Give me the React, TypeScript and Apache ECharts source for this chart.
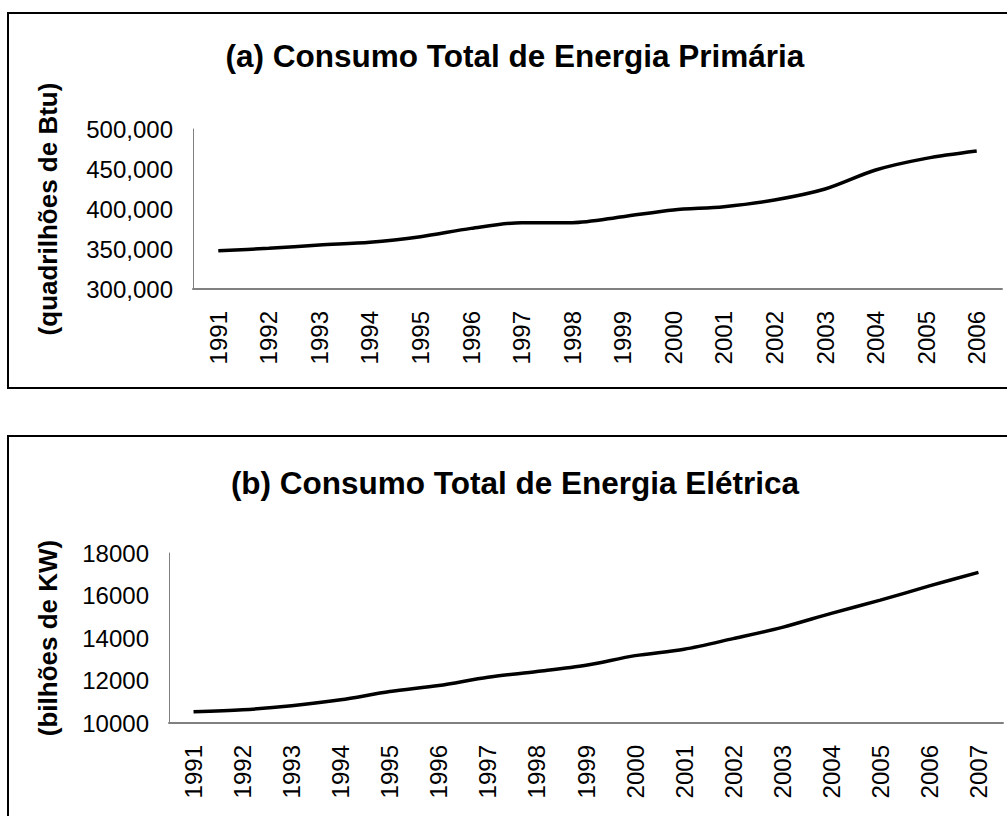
import React, { useEffect, useRef } from "react";
import * as echarts from "echarts";

const yearsA = ["1991","1992","1993","1994","1995","1996","1997","1998","1999","2000","2001","2002","2003","2004","2005","2006"];
const primaryEnergy = [347900, 350900, 355000, 358300, 365400, 375800, 382900, 382900, 390400, 398750, 402900, 411250, 425000, 448750, 463300, 472500];

const yearsB = ["1991","1992","1993","1994","1995","1996","1997","1998","1999","2000","2001","2002","2003","2004","2005","2006","2007"];
const electricEnergy = [10530, 10620, 10810, 11090, 11480, 11760, 12150, 12420, 12720, 13170, 13470, 13970, 14500, 15160, 15780, 16450, 17090];

const titleA = "(a) Consumo Total de Energia Primária";
const titleB = "(b) Consumo Total de Energia Elétrica";
const yNameA = "(quadrilhões de Btu)";
const yNameB = "(bilhões de KW)";

const FONT = "'Liberation Sans', Arial, sans-serif";

export default function App() {
  const ref = useRef<HTMLDivElement>(null);
  useEffect(() => {
    if (!ref.current) return;
    const chart = echarts.init(ref.current, null, { renderer: "svg" });
    const axisLabel = { color: "#000", fontSize: 24, fontFamily: FONT };
    const xAxisCommon = {
      type: "category" as const,
      boundaryGap: true,
      axisTick: { show: false },
      axisLine: { lineStyle: { color: "#808080", width: 2 } },
      axisLabel: { ...axisLabel, rotate: 90, margin: 22 },
      splitLine: { show: false },
    };
    const yAxisCommon = {
      type: "value" as const,
      axisTick: { show: false },
      axisLine: { show: true, lineStyle: { color: "#808080", width: 1 } },
      splitLine: { show: false },
      nameLocation: "middle" as const,
      nameRotate: 90,
      nameTextStyle: { color: "#000", fontSize: 26, fontWeight: "bold" as const, fontFamily: FONT },
    };
    chart.setOption({
      animation: false,
      backgroundColor: "#fff",
      graphic: [
        { type: "rect", shape: { x: 8, y: 13, width: 1010, height: 375 }, style: { fill: "none", stroke: "#000", lineWidth: 2 }, z: 10 },
        { type: "rect", shape: { x: 8, y: 436, width: 1010, height: 400 }, style: { fill: "none", stroke: "#000", lineWidth: 2 }, z: 10 },
        { type: "text", x: 515, y: 56, style: { text: titleA, font: `bold 31.5px ${FONT}`, fill: "#000", textAlign: "center", textVerticalAlign: "middle" } },
        { type: "text", x: 515, y: 483, style: { text: titleB, font: `bold 31.5px ${FONT}`, fill: "#000", textAlign: "center", textVerticalAlign: "middle" } },
      ],
      grid: [
        { left: 193, top: 129, width: 809, height: 160 },
        { left: 169, top: 553, width: 834, height: 170 },
      ],
      xAxis: [
        { ...xAxisCommon, gridIndex: 0, data: yearsA },
        { ...xAxisCommon, gridIndex: 1, data: yearsB },
      ],
      yAxis: [
        {
          ...yAxisCommon,
          gridIndex: 0,
          min: 300000,
          max: 500000,
          interval: 50000,
          name: yNameA,
          nameGap: 132,
          axisLabel: { ...axisLabel, margin: 20, formatter: (v: number) => v.toLocaleString("en-US") },
        },
        {
          ...yAxisCommon,
          gridIndex: 1,
          min: 10000,
          max: 18000,
          interval: 2000,
          name: yNameB,
          nameGap: 108,
          axisLabel: { ...axisLabel, margin: 20, formatter: (v: number) => String(v) },
        },
      ],
      series: [
        {
          type: "line",
          xAxisIndex: 0,
          yAxisIndex: 0,
          data: primaryEnergy,
          smooth: 0.3,
          showSymbol: false,
          lineStyle: { color: "#000", width: 3.5 },
        },
        {
          type: "line",
          xAxisIndex: 1,
          yAxisIndex: 1,
          data: electricEnergy,
          smooth: 0.3,
          showSymbol: false,
          lineStyle: { color: "#000", width: 3.5 },
        },
      ],
    });
    return () => chart.dispose();
  }, []);
  return <div ref={ref} style={{ position: "absolute", left: 0, top: 0, width: 1007, height: 816 }} />;
}
